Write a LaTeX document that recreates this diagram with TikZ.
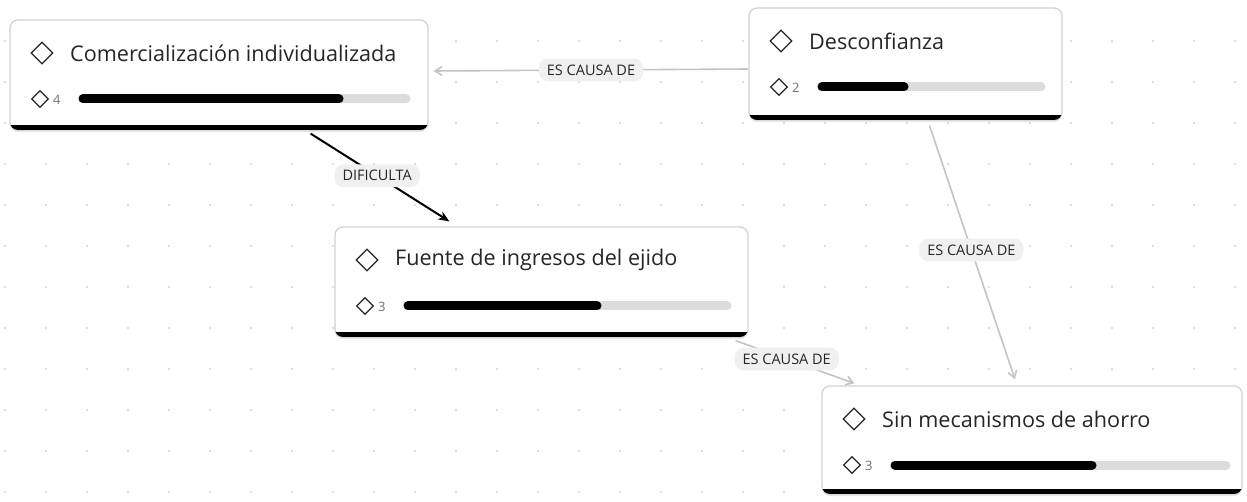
\documentclass[tikz,border=0pt]{standalone}
\usepackage{fontspec}
\setmainfont{Open Sans}
\usetikzlibrary{shapes.geometric,arrows.meta,calc,shadows}
\definecolor{edgegray}{HTML}{C4C4C4}
\definecolor{boxborder}{HTML}{D2D2D2}
\definecolor{bargray}{HTML}{DCDCDE}
\definecolor{pill}{HTML}{F0F0F0}
\definecolor{txt}{HTML}{262626}
\definecolor{dotc}{HTML}{D4D4D4}
\tikzset{
  cardbox/.style={draw=boxborder, line width=1.3pt, fill=white, rounded corners=8pt,
    drop shadow={opacity=0.18, shadow xshift=0pt, shadow yshift=-2pt}, inner sep=0pt},
  cardtitle/.style={anchor=west, inner sep=0pt, text=txt, font=\fontsize{21.6}{24}\selectfont},
  bigdiam/.style={diamond, draw=black!85, line width=1.3pt, minimum width=22pt, minimum height=22pt, inner sep=0pt},
  smalldiam/.style={diamond, draw=black!85, line width=1.2pt, minimum width=17pt, minimum height=17pt, inner sep=0pt},
  cardnum/.style={anchor=west, inner sep=0pt, text=black!55, font=\fontsize{13}{14}\selectfont},
  bartrack/.style={draw=bargray, line width=9pt, line cap=round},
  barfill/.style={draw=black, line width=9pt, line cap=round},
  grayedge/.style={draw=edgegray, line width=1.6pt, -{Straight Barb[length=7pt,width=9pt]}},
  blackedge/.style={draw=black, line width=2pt, -{Stealth[length=11pt,width=9pt]}},
  pilllabel/.style={fill=pill, rounded corners=9pt, inner xsep=8pt, inner ysep=6pt, text=txt,
    font=\fontsize{14.5}{16}\selectfont},
}
\newcommand{\mycard}[9]{%
  \node[cardbox, minimum width=#4pt-#2pt, minimum height=#5pt-#3pt] (#1) at ({(#2+#4)/2},{(#3+#5)/2}) {};
  \begin{scope}
    \clip[rounded corners=8pt] (#2,#3) rectangle (#4,#5);
    \fill[black] (#2,#5-5) rectangle (#4,#5);
  \end{scope}
  \node[bigdiam] (#1d) at (#2+32,#3+33) {};
  \node[cardtitle] (#1t) at (#2+60,#3+33) {#6};
  \node[smalldiam] (#1s) at (#2+30,#3+79) {};
  \node[cardnum] (#1n) at (#2+43,#3+80) {#7};
  \draw[bartrack] (#2+73,#3+79) -- (#8-4,#3+79);
  \draw[barfill] (#2+73,#3+79) -- (#9-4,#3+79);
}
\begin{document}
\begin{tikzpicture}[x=1pt,y=-1pt]
\useasboundingbox (0,0) rectangle (1247,502);
\fill[white] (0,0) rectangle (1247,502);
\foreach \i in {0,...,30} {
  \foreach \j in {1,...,12} {
    \fill[dotc] (5+41*\i,41*\j) circle (1.1pt);
  }
}
\mycard{c}{10}{20}{428}{130}{Comercialización individualizada}{4}{410}{343}
\mycard{d}{749}{8}{1062}{120}{Desconfianza}{2}{1045}{908}
\mycard{f}{335}{227}{748}{337}{Fuente de ingresos del ejido}{3}{731}{601}
\mycard{s}{822}{386}{1242}{494}{Sin mecanismos de ahorro}{3}{1230}{1096}

\draw[grayedge] ($(d.west)+(0,5)$) -- node[pilllabel, pos=0.5] {ES CAUSA DE} ($(c.east)+(5,-4)$);
\draw[blackedge] ($(c.south east)+(-118,3)$) -- node[pilllabel, pos=0.48] {DIFICULTA} ($(f.north west)+(115,-5)$);
\draw[grayedge] ($(f.south east)+(-13,3)$) -- node[pilllabel, pos=0.43] {ES CAUSA DE} ($(s.north west)+(33,-2)$);
\draw[grayedge] ($(d.south)+(24,5)$) -- node[pilllabel, pos=0.49] {ES CAUSA DE} ($(s.north)+(-17,-6)$);
\end{tikzpicture}
\end{document}
